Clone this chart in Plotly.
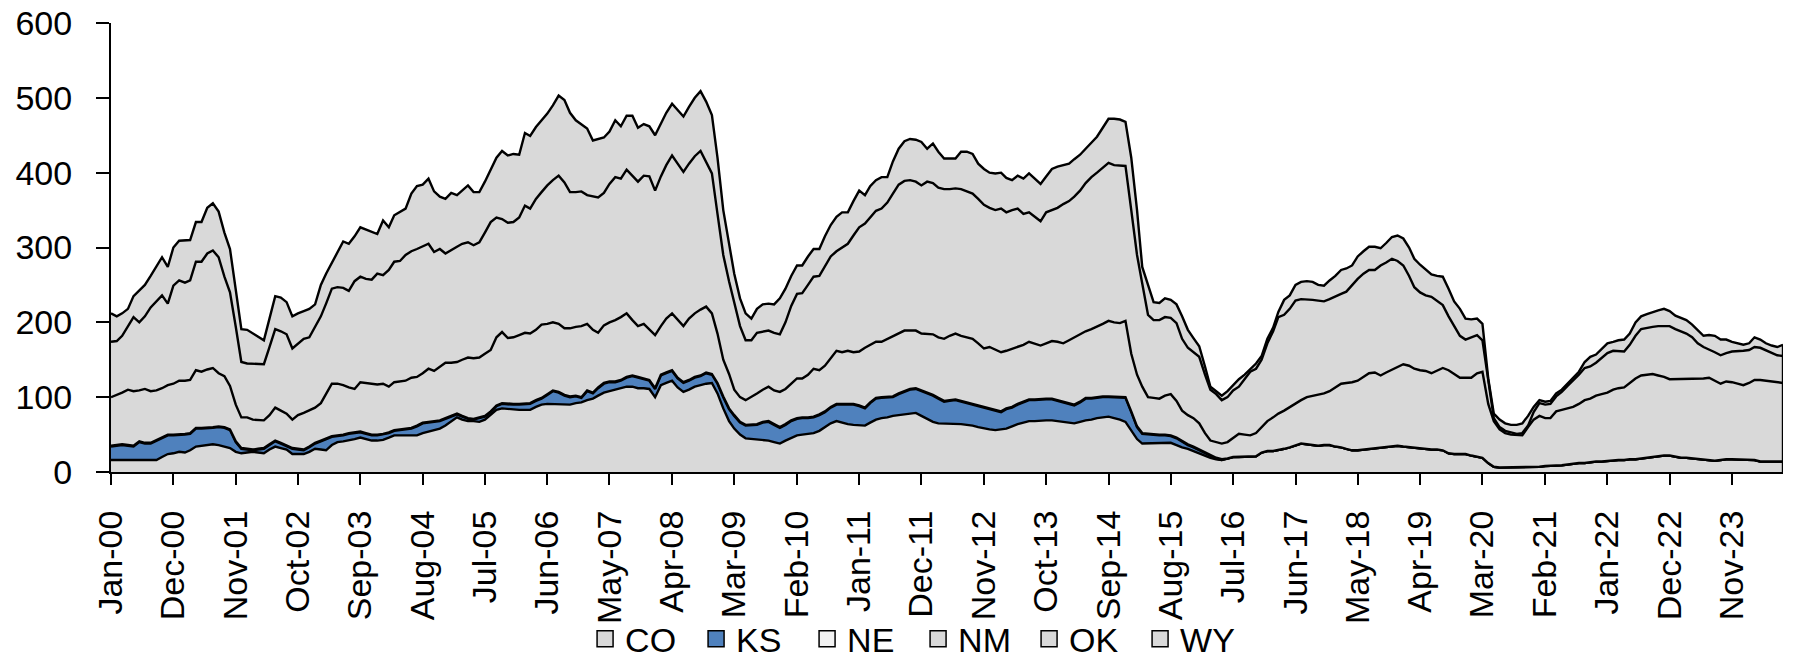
import numpy as np
import pandas as pd
import plotly.graph_objects as go

# ---------------- data (monthly from Jan-2000) ----------------
# Stacked levels (top edge of each layer)
co_top = [16,16,16,16,16,15,15,15,16,20,24,25,
          27,26,29,34,35,36,37,36,34,32,27,25,
          26,27,26,25,30,34,32,30,24,24,24,27,
          31,30,29,36,40,41,42,44,46,44,42,42,
          43,46,49,49,49,49,49,52,54,56,58,62,
          67,73,70,68,68,67,70,76,83,85,84,83,
          83,83,83,87,90,91,91,91,91,90,92,93,
          96,98,102,106,108,110,112,114,114,112,112,111,
          100,116,119,122,113,107,110,114,116,118,119,105,
          85,68,58,50,45,44,44,43,42,40,38,42,
          46,49,50,51,52,55,60,65,68,66,64,63,
          62,62,66,70,72,73,75,76,77,78,79,75,
          71,67,65,65,65,65,64,63,62,60,58,57,
          56,57,58,61,64,66,68,68,69,69,69,68,
          67,66,65,67,69,70,72,73,74,72,70,67,
          55,44,38,38,38,38,38,39,36,33,31,28,
          25,22,19,17,16,18,20,20,20,20,21,26,
          28,28,29,31,33,36,38,37,36,35,36,36,
          34,33,31,29,29,30,31,32,33,34,34,35,
          34,33,33,32,31,30,30,29,25,24,24,24,
          22,20,19,12,7,6,6,6,6,6,6,7,
          7,8,8,9,9,10,11,12,12,13,14,14,
          15,15,16,16,17,17,18,19,20,21,22,22,
          20,19,19,18,17,16,15,15,16,17,17,17,
          16,16,16,14,14,14,14,14]

ks_top = [34,35,36,35,34,40,38,38,42,45,49,49,
          49,50,51,58,58,58,59,60,59,56,40,31,
          30,29,30,31,36,41,38,35,31,30,29,33,
          38,41,44,47,48,49,51,52,53,51,49,49,
          50,52,55,56,57,58,61,65,66,67,68,71,
          74,77,74,71,70,72,74,80,88,91,90,90,
          90,91,91,95,98,103,108,106,102,100,101,99,
          108,105,112,118,120,120,122,126,128,126,124,122,
          111,129,132,135,125,119,122,126,128,132,130,118,
          100,84,75,66,62,62,63,66,67,63,59,63,
          68,71,72,72,73,76,80,86,90,90,90,90,
          88,85,92,98,99,100,100,104,107,110,111,108,
          105,102,98,94,95,96,94,92,89,88,86,84,
          82,80,84,86,90,93,96,96,97,97,97,95,
          93,91,89,93,98,98,99,100,100,100,99,99,
          80,60,51,50,49,49,49,48,45,40,36,33,
          29,26,22,18,16]

ne_est = [1,1,1,1,1,1,1,1,1,1,1,1,
          1,1,1,1,1,1,1,1,1,1,1,1,
          1,1,1,1,1,1,1,1,1,1,1,1,
          1,1,1,1,1,1,1,1,1,1,1,1,
          1,1,1,1,1,1,1,1,1,1,1,1,
          1,1,1,1,1,1,1,1,1,1,1,1,
          1,1,1,1,1,1,1,1,1,1,1,1,
          1,1,1,1,1,1,1,1,1,1,1,1,
          1,1,1,1,1,1,1,1,1,1,1,1,
          1,1,1,1,1,1,1,1,1,1,1,1,
          1,1,1,1,1,1,1,1,1,1,1,1,
          1,1,1,1,1,1,1,1,1,1,1,1,
          1,1,1,1,1,1,1,1,1,1,1,1,
          1,1,1,1,1,1,1,1,1,1,1,1,
          1,1,1,1,1,1,1,1,1,1,1,1,
          1,1,1,1,1,1,1,1,1,1,1,1,
          1,1,1,1,1]

nm_top = [100,103,106,110,108,109,111,108,109,112,116,118,
          122,122,123,136,134,137,139,132,128,115,90,73,
          73,70,70,69,76,86,82,78,70,76,79,82,
          86,92,105,118,118,116,113,111,120,119,118,117,
          118,114,120,121,122,126,127,132,138,135,140,146,
          146,147,150,153,152,153,158,163,180,187,179,180,
          183,186,185,190,197,198,200,198,192,192,194,195,
          198,190,186,196,200,203,207,212,203,195,198,190,
          183,195,205,212,204,195,205,212,217,221,212,185,
          150,131,110,100,96,100,105,110,114,109,107,111,
          118,125,125,130,138,136,142,152,162,160,162,160,
          161,166,170,174,174,178,182,186,189,189,189,185,
          185,184,180,178,182,185,182,180,178,172,165,167,
          164,160,162,165,167,170,174,171,169,172,175,174,
          172,176,180,184,188,191,194,198,202,200,199,202,
          158,130,114,100,99,98,102,104,95,82,76,72,
          65,52,42,40,38,40,46,51,50,49,52,60,
          68,73,78,82,87,92,96,100,102,104,105,108,
          113,118,119,120,122,127,132,133,129,133,137,140,
          144,142,138,136,135,132,136,139,136,131,126,126,
          126,132,134,91,68,57,52,50,49,49,60,70,
          75,72,72,81,83,85,87,91,96,98,102,104,
          106,110,112,113,119,125,129,130,131,129,127,124,
          124,125,125,125,125,125,126,122,118,121,120,118,
          116,119,123,123,122,121,120,119]

ok_top = [174,175,182,195,207,200,208,220,228,236,225,249,
          256,253,256,281,281,292,296,287,261,240,194,147,
          145,145,144,144,167,191,188,184,165,172,178,180,
          194,208,225,245,247,246,242,255,261,258,257,265,
          263,270,281,282,290,295,298,302,305,294,298,292,
          296,301,305,307,303,307,320,334,340,338,333,334,
          340,356,352,365,374,383,390,396,387,374,374,375,
          370,368,367,373,385,394,392,404,396,388,396,395,
          376,395,410,423,412,401,412,422,429,414,399,345,
          290,255,225,195,176,176,186,188,189,186,184,200,
          222,238,239,250,261,262,275,288,295,300,305,316,
          327,332,340,349,352,360,372,384,389,390,388,383,
          388,386,380,378,378,379,378,375,372,365,357,353,
          350,352,347,350,352,345,347,341,335,347,350,353,
          358,362,368,376,386,394,400,406,413,410,409,409,
          350,290,252,210,203,203,207,206,199,178,166,160,
          154,130,110,104,96,100,109,114,125,134,138,150,
          172,188,207,210,218,229,231,231,230,229,228,231,
          234,238,241,250,258,265,270,270,276,280,285,282,
          276,262,247,240,236,234,228,223,208,195,182,177,
          180,183,176,120,72,60,55,53,51,52,62,80,
          92,90,91,101,107,115,122,130,139,141,146,153,
          159,162,162,161,170,182,191,193,194,195,195,195,
          191,188,185,180,172,167,164,160,156,159,161,161,
          162,163,167,166,163,159,156,155]

wy_top = [212,208,212,218,235,242,250,262,275,287,274,300,
          309,310,310,334,334,353,359,348,320,298,240,191,
          190,185,180,176,205,235,233,227,208,212,215,218,
          224,250,265,280,295,308,305,315,327,324,320,318,
          336,327,343,348,352,372,382,384,392,375,368,365,
          373,370,376,383,374,374,388,405,420,429,423,425,
          424,453,449,461,470,479,490,503,497,480,470,465,
          459,443,445,447,455,470,462,476,476,460,465,462,
          450,465,480,492,484,475,488,500,509,495,477,420,
          350,305,265,232,212,205,218,224,225,224,232,245,
          262,276,276,288,298,298,315,330,341,347,347,362,
          376,370,382,390,394,394,415,432,442,445,444,441,
          432,439,428,419,419,419,428,428,425,412,405,400,
          399,400,393,390,396,392,399,392,385,395,405,408,
          410,412,418,424,432,440,448,460,472,472,471,468,
          420,350,274,250,227,226,232,230,224,208,190,179,
          168,141,114,108,102,108,116,124,130,138,145,155,
          178,193,214,230,236,250,254,255,254,250,249,256,
          262,270,272,276,288,295,301,301,299,306,314,316,
          312,300,285,277,270,264,262,261,245,228,218,205,
          204,205,198,125,78,70,65,63,63,65,75,87,
          96,94,95,105,110,118,127,134,147,154,157,165,
          172,174,176,177,185,200,208,211,214,216,218,215,
          209,206,203,197,189,182,183,182,177,177,174,172,
          170,172,180,177,172,169,167,170]

tick_labels = ["Jan-00","Dec-00","Nov-01","Oct-02","Sep-03","Aug-04","Jul-05",
               "Jun-06","May-07","Apr-08","Mar-09","Feb-10","Jan-11","Dec-11",
               "Nov-12","Oct-13","Sep-14","Aug-15","Jul-16","Jun-17","May-18",
               "Apr-19","Mar-20","Feb-21","Jan-22","Dec-22","Nov-23"]
y_ticks = [0, 100, 200, 300, 400, 500, 600]

states = ["CO", "KS", "NE", "NM", "OK", "WY"]
fill_colors = {"CO": "#d9d9d9", "KS": "#4f81bd", "NE": "#f2f2f2",
               "NM": "#d9d9d9", "OK": "#d9d9d9", "WY": "#d9d9d9"}

# ---------------- derive per-state values from the stacked levels ----------------
n = len(wy_top)
assert len(co_top) == n and len(nm_top) == n and len(ok_top) == n
nk = len(ks_top)
assert len(ne_est) == nk
months = pd.date_range("2000-01-01", periods=n, freq="MS")

co = np.array(co_top, dtype=float)
ks = np.array(ks_top, dtype=float) - co[:nk]
ne = np.array(ne_est, dtype=float)
below_nm = np.concatenate([np.array(ks_top, dtype=float) + ne, co[nk:]])
nm = np.array(nm_top, dtype=float) - below_nm
ok = np.array(ok_top, dtype=float) - np.array(nm_top, dtype=float)
wy = np.array(wy_top, dtype=float) - np.array(ok_top, dtype=float)

values = {"CO": (months, co), "KS": (months[:nk], ks), "NE": (months[:nk], ne),
          "NM": (months, nm), "OK": (months, ok), "WY": (months, wy)}

FONT = "'Liberation Sans', Arial, sans-serif"
FS = 34
LW = 2.4

fig = go.Figure()
for s in states:
    x, y = values[s]
    fig.add_trace(go.Scatter(
        x=x, y=y, name=s, stackgroup="rigs", mode="lines",
        line=dict(color="black", width=LW), fillcolor=fill_colors[s],
        showlegend=False, hoverinfo="x+y+name"))

# right-hand closing edge of the stacked area
fig.add_trace(go.Scatter(x=[months[-1], months[-1]], y=[0, wy_top[-1]], mode="lines",
                         line=dict(color="black", width=LW), showlegend=False, hoverinfo="skip"))

# legend entries (square swatches)
for s in states:
    fig.add_trace(go.Scatter(
        x=[None], y=[None], mode="markers", name=s,
        marker=dict(symbol="square", size=16, color=fill_colors[s],
                    line=dict(color="black", width=1.5)),
        showlegend=True))

tick_dates = pd.to_datetime(tick_labels, format="%b-%y")

fig.update_layout(
    width=1797, height=664,
    margin=dict(l=111, r=14, t=23, b=192, autoexpand=False),
    plot_bgcolor="white", paper_bgcolor="white",
    font=dict(family=FONT, size=FS, color="black"),
    showlegend=True,
    legend=dict(orientation="h", x=0.4827, xanchor="center", y=-0.372, yanchor="middle",
                font=dict(family=FONT, size=FS, color="black"),
                itemwidth=30, entrywidth=66, traceorder="normal", bgcolor="rgba(0,0,0,0)"),
)
fig.update_xaxes(
    type="date", range=[months[0], months[-1]],
    tickmode="array", tickvals=tick_dates, ticktext=tick_labels, tickangle=-90,
    ticks="outside", ticklen=11, tickwidth=2, tickcolor="black",
    showline=True, linecolor="black", linewidth=2,
    showgrid=False, zeroline=False, ticklabelstandoff=12,
    tickfont=dict(family=FONT, size=FS, color="black"))
fig.update_yaxes(
    range=[0, 600], tickmode="array", tickvals=y_ticks,
    ticks="outside", ticklen=13, tickwidth=2, tickcolor="black",
    showline=True, linecolor="black", linewidth=2,
    showgrid=False, zeroline=False, ticklabelstandoff=17,
    tickfont=dict(family=FONT, size=FS, color="black"))

fig.write_html("out.html", config={"displayModeBar": False},
               post_script="document.body.style.margin='0';")
